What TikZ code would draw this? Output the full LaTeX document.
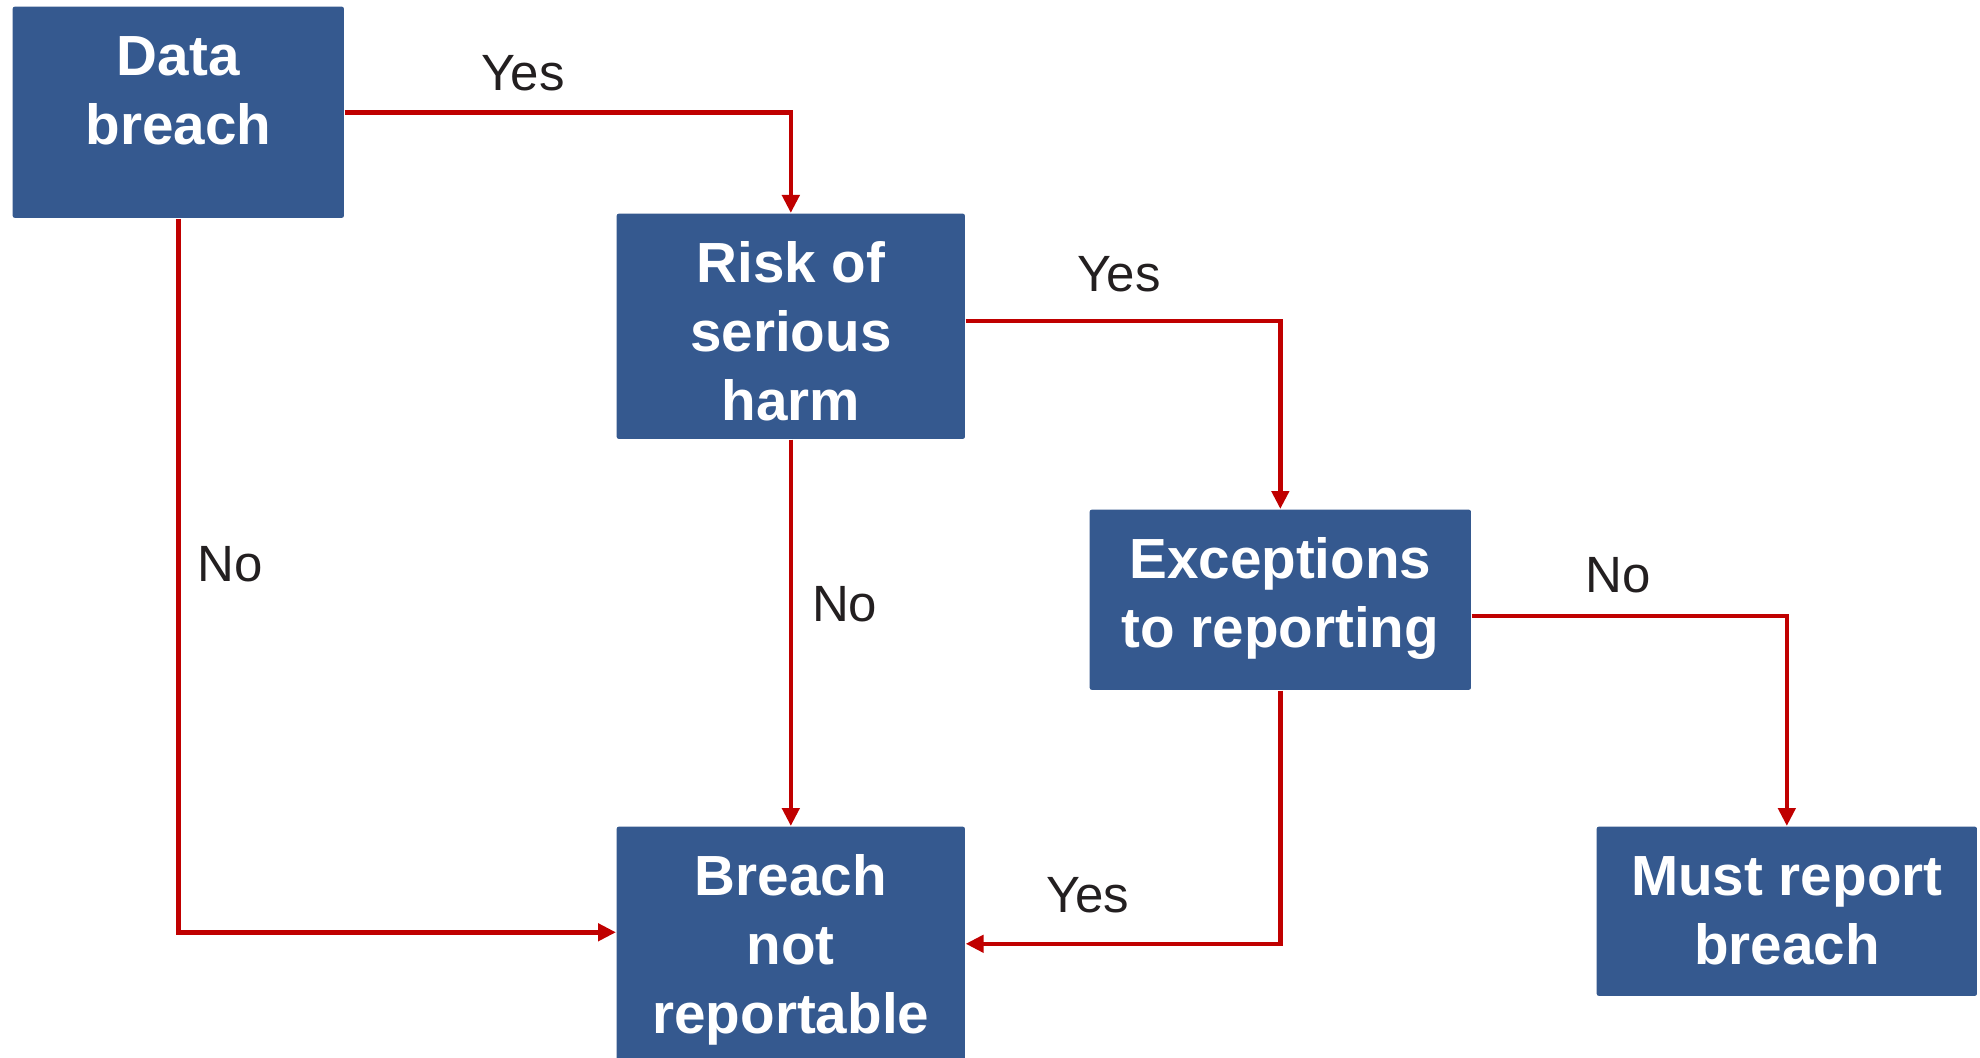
\documentclass[tikz,border=0pt]{standalone}
\usepackage{fontspec}
\setmainfont{Liberation Sans}
\usetikzlibrary{arrows.meta}

\definecolor{boxblue}{HTML}{35598F}
\definecolor{flowred}{HTML}{C00000}
\definecolor{labelgray}{HTML}{231F20}

\tikzset{
  box/.style={rectangle, rounded corners=0.2mm, fill=boxblue, text=white,
    font=\fontsize{16.1}{19.6}\selectfont\bfseries, align=flush center,
    inner sep=0pt, anchor=north west, text height=6.9mm},
  flow/.style={->, flowred, line width=0.45mm},
  answer/.style={inner sep=0pt, text=labelgray, font=\fontsize{14.5}{17}\selectfont},
  >={Triangle[length=1.8mm,width=1.7mm]}
}

\begin{document}
\begin{tikzpicture}[x=0.01cm, y=-0.01cm]
  \useasboundingbox (0,0) rectangle (1980,1057);
  \node(data)[box, text width=3.31cm, text depth=14.2mm] at (12,6) {Data\\breach};
  \node(risk)[box, text width=3.48cm, text depth=15.6mm] at (616,213) {Risk of\\serious\\harm};
  \node(exc)[box, text width=3.81cm, text depth=11.1mm] at (1089,509) {Exceptions\\to reporting};
  \node(notrep)[box, text width=3.48cm, text depth=16.5mm] at (616,826) {Breach\\not\\reportable};
  \node(must)[box, text width=3.80cm, text depth=10mm] at (1596,826) {Must report\\breach};

  \draw[flow] (data.east) -| node[answer, pos=0.2, above=1.9mm] {Yes} (risk.north);
  \draw[flow] (data.south) |- node[answer, pos=0.2425, right=1.7mm] {No} ([yshift=1.15mm]notrep.west);
  \draw[flow] (risk.south) -- node[answer, pos=0.427, right=1.9mm] {No} (notrep.north);
  \draw[flow] ([yshift=0.55mm]risk.east) -| node[answer, pos=0.244, above=2.7mm] {Yes} (exc.north);
  \draw[flow] ([yshift=-1.6mm]exc.east) -| node[answer, pos=0.233, above=2.1mm] {No} (must.north);
  \draw[flow] (exc.south) |- node[answer, pos=0.806, above=2.9mm] {Yes} (notrep.east);
\end{tikzpicture}
\end{document}
